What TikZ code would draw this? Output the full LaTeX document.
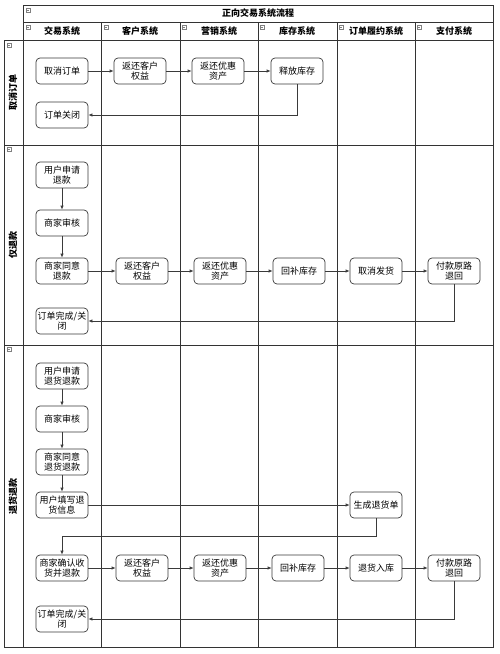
\documentclass[tikz,border=0pt]{standalone}
\usepackage{fontspec}
\setmainfont{Noto Sans CJK SC}
\usetikzlibrary{arrows.meta}
\definecolor{lane}{HTML}{333333}
\definecolor{flow}{HTML}{3A3A3A}

\begin{document}
\begin{tikzpicture}[x=1pt,y=-1pt,
  box/.style={draw=flow,line width=0.7pt,rounded corners=4pt,minimum width=52pt,minimum height=26pt,inner sep=1pt,align=center,fill=white,font=\fontsize{9}{10.5}\selectfont},
  head/.style={font=\fontsize{9}{10}\selectfont\bfseries},
  arr/.style={-{Latex[length=4pt,width=3.5pt]},draw=flow,line width=0.7pt},
  fold/.style={draw=gray,minimum size=4pt,inner sep=0pt,path picture={\draw[gray] ([xshift=0.8pt]path picture bounding box.west) -- ([xshift=-0.8pt]path picture bounding box.east);}},
]
  \useasboundingbox (0,0) rectangle (500,654);

  \draw[lane,line width=0.8pt] (23,5) rectangle (493,22);
  \draw[lane,line width=0.8pt] (23,22) rectangle (493,40);
  \draw[lane,line width=0.8pt] (4,40) rectangle (493,145);
  \draw[lane,line width=0.8pt] (4,145) rectangle (493,345);
  \draw[lane,line width=0.8pt] (4,345) rectangle (493,647);
  \foreach \x in {23,101,180,258,337,415}
    \draw[lane,line width=0.8pt] (\x,22) -- (\x,647);
  \foreach \x/\y in {28/10,28/27,106/27,184/27,262/27,341/27,419/27,9/45,9/149,9/349}
    \node[fold] at (\x,\y) {};

  \node[head] (title) at (258,13.5) {正向交易系统流程};
  \node[head] (hdeal) at (62,31) {交易系统};
  \node[head] (hcust) at (140,31) {客户系统};
  \node[head] (hmkt) at (219,31) {营销系统};
  \node[head] (hstock) at (297,31) {库存系统};
  \node[head] (hfulfil) at (376,31) {订单履约系统};
  \node[head] (hpay) at (454,31) {支付系统};

  \node[head,rotate=90] (lcancel) at (13,92) {取消订单};
  \node[head,rotate=90] (lrefund) at (13,245) {仅退款};
  \node[head,rotate=90] (lreturn) at (13,496) {退货退款};

  \node[box] (c1cancel) at (62,71) {取消订单};
  \node[box] (c1cust) at (140,71) {返还客户\\权益};
  \node[box] (c1mkt) at (218,71) {返还优惠\\资产};
  \node[box] (c1stock) at (297,71) {释放库存};
  \node[box] (c1close) at (62,115) {订单关闭};

  \node[box] (r2apply) at (62,175) {用户申请\\退款};
  \node[box] (r2audit) at (62,223) {商家审核};
  \node[box] (r2agree) at (62,271) {商家同意\\退款};
  \node[box] (r2cust) at (142,271) {返还客户\\权益};
  \node[box] (r2mkt) at (220,271) {返还优惠\\资产};
  \node[box] (r2stock) at (299,271) {回补库存};
  \node[box] (r2ship) at (376,271) {取消发货};
  \node[box] (r2pay) at (454,271) {付款原路\\退回};
  \node[box] (r2close) at (62,321) {订单完成/关\\闭};

  \node[box] (r3apply) at (62,376) {用户申请\\退货退款};
  \node[box] (r3audit) at (62,419) {商家审核};
  \node[box] (r3agree) at (62,462) {商家同意\\退货退款};
  \node[box] (r3fill) at (62,505) {用户填写退\\货信息};
  \node[box] (r3gen) at (376,505) {生成退货单};
  \node[box] (r3confirm) at (62,568) {商家确认收\\货并退款};
  \node[box] (r3cust) at (142,568) {返还客户\\权益};
  \node[box] (r3mkt) at (220,568) {返还优惠\\资产};
  \node[box] (r3stock) at (298,568) {回补库存};
  \node[box] (r3in) at (376,568) {退货入库};
  \node[box] (r3pay) at (454,568) {付款原路\\退回};
  \node[box] (r3close) at (62,619) {订单完成/关\\闭};
  \coordinate (r3turn) at (62,536);

  \foreach \a/\b in {c1cancel/c1cust,c1cust/c1mkt,c1mkt/c1stock,
      r2apply/r2audit,r2audit/r2agree,r2agree/r2cust,r2cust/r2mkt,r2mkt/r2stock,r2stock/r2ship,r2ship/r2pay,
      r3apply/r3audit,r3audit/r3agree,r3agree/r3fill,r3fill/r3gen,
      r3confirm/r3cust,r3cust/r3mkt,r3mkt/r3stock,r3stock/r3in,r3in/r3pay}
    \draw[arr] (\a) -- (\b);
  \draw[arr] (c1stock.south) |- (c1close.east);
  \draw[arr] (r2pay.south) |- (r2close.east);
  \draw[arr] (r3gen.south) |- (r3turn) -- (r3confirm.north);
  \draw[arr] (r3pay.south) |- (r3close.east);
\end{tikzpicture}
\end{document}
